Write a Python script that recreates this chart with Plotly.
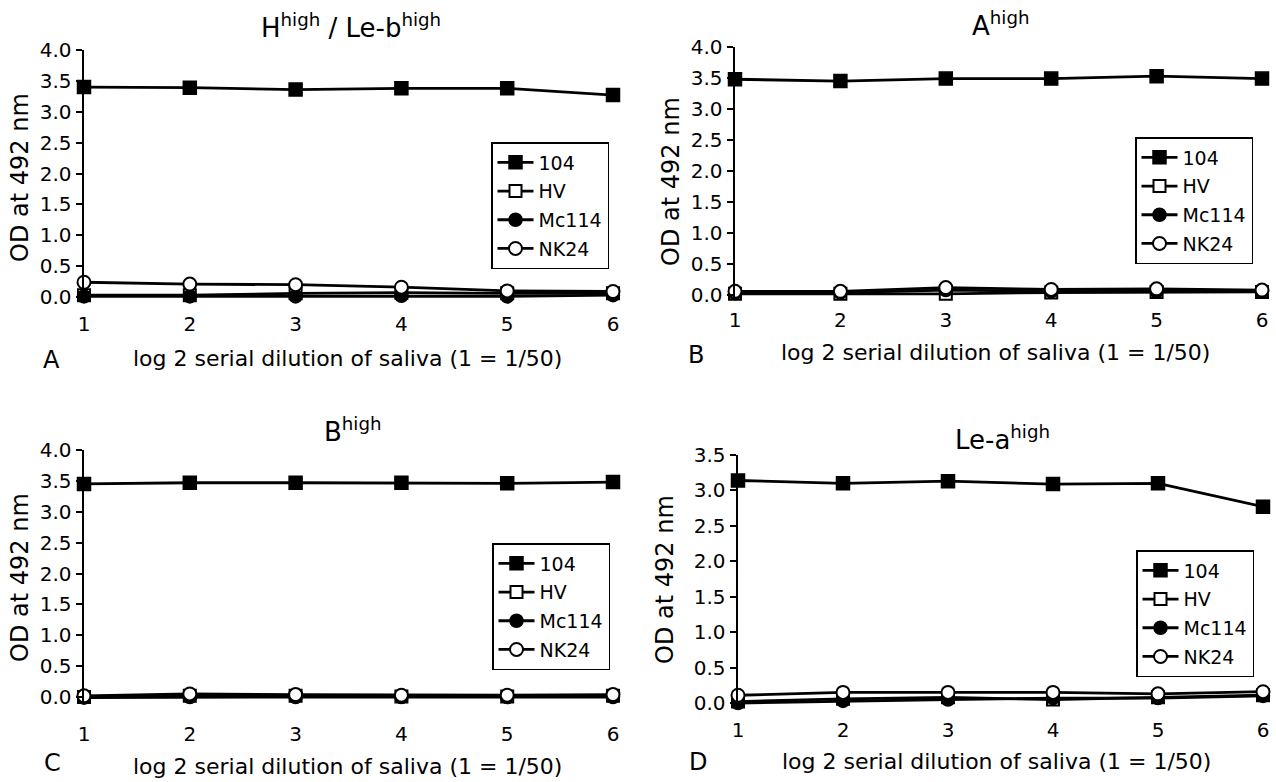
import plotly.graph_objects as go

W, H = 1276, 782

# ---------------- data ----------------
dilution = [1, 2, 3, 4, 5, 6]
series_names = ["104", "HV", "Mc114", "NK24"]

# Panel A: H-high / Le-b-high
a_104 = [3.40, 3.39, 3.36, 3.38, 3.38, 3.27]
a_hv = [0.03, 0.03, 0.06, 0.07, 0.06, 0.06]
a_mc114 = [0.01, 0.01, 0.01, 0.02, 0.01, 0.03]
a_nk24 = [0.24, 0.21, 0.20, 0.16, 0.10, 0.09]

# Panel B: A-high
b_104 = [3.48, 3.45, 3.49, 3.49, 3.53, 3.49]
b_hv = [0.02, 0.02, 0.02, 0.04, 0.05, 0.05]
b_mc114 = [0.03, 0.04, 0.08, 0.06, 0.06, 0.06]
b_nk24 = [0.06, 0.06, 0.12, 0.09, 0.10, 0.08]

# Panel C: B-high
c_104 = [3.45, 3.47, 3.47, 3.47, 3.46, 3.48]
c_hv = [0.00, 0.02, 0.02, 0.01, 0.01, 0.02]
c_mc114 = [-0.01, 0.00, 0.00, 0.00, 0.00, 0.00]
c_nk24 = [0.02, 0.05, 0.04, 0.03, 0.03, 0.04]

# Panel D: Le-a-high
d_104 = [3.14, 3.10, 3.13, 3.09, 3.10, 2.77]
d_hv = [0.02, 0.06, 0.08, 0.05, 0.08, 0.11]
d_mc114 = [0.00, 0.03, 0.05, 0.07, 0.07, 0.10]
d_nk24 = [0.11, 0.15, 0.15, 0.15, 0.13, 0.16]

x_tick_labels = ["1", "2", "3", "4", "5", "6"]
y_title = "OD at 492 nm"
x_title = "log 2 serial dilution of saliva (1 = 1/50)"

# ---------------- styling / layout ----------------
FONT = "DejaVu Sans"
marker_styles = {
    "104": dict(symbol="square", color="black", size=13, line=dict(color="black", width=1.5)),
    "HV": dict(symbol="square", color="white", size=12, line=dict(color="black", width=2)),
    "Mc114": dict(symbol="circle", color="black", size=13, line=dict(color="black", width=1.5)),
    "NK24": dict(symbol="circle", color="white", size=13, line=dict(color="black", width=2)),
}

panels = [
    dict(letter="A", title="H<sup>high</sup> / Le-b<sup>high</sup>",
         values=[a_104, a_hv, a_mc114, a_nk24],
         xpx=(84, 613), ypx=(50, 302), yrange=[-0.08, 4.0], ymax=4.0,
         standoff=8, title_xy=(351, 26), ytitle_x=20, ytitle_y=178,
         xtitle_xy=(347, 359), letter_xy=(51, 360), legend_xy=(609, 142)),
    dict(letter="B", title="A<sup>high</sup>",
         values=[b_104, b_hv, b_mc114, b_nk24],
         xpx=(735, 1262), ypx=(47, 300), yrange=[-0.08, 4.0], ymax=4.0,
         standoff=6, title_xy=(1000, 24), ytitle_x=671, ytitle_y=182,
         xtitle_xy=(995, 352), letter_xy=(696, 355), legend_xy=(1253, 137)),
    dict(letter="C", title="B<sup>high</sup>",
         values=[c_104, c_hv, c_mc114, c_nk24],
         xpx=(84, 613), ypx=(450, 702), yrange=[-0.08, 4.0], ymax=4.0,
         standoff=18, title_xy=(353, 430), ytitle_x=20, ytitle_y=578,
         xtitle_xy=(347, 766), letter_xy=(52, 763), legend_xy=(610, 543)),
    dict(letter="D", title="Le-a<sup>high</sup>",
         values=[d_104, d_hv, d_mc114, d_nk24],
         xpx=(738, 1263), ypx=(455, 708), yrange=[-0.07, 3.5], ymax=3.5,
         standoff=8, title_xy=(1002, 438), ytitle_x=665, ytitle_y=580,
         xtitle_xy=(996, 761), letter_xy=(698, 762), legend_xy=(1254, 550)),
]

fig = go.Figure()
annotations = []
layout_updates = {}

for i, p in enumerate(panels):
    n = "" if i == 0 else str(i + 1)
    xa, ya = "x" + n, "y" + n
    leg = "legend" + n
    for name, vals in zip(series_names, p["values"]):
        fig.add_trace(go.Scatter(
            x=dilution, y=vals, name=name, mode="lines+markers",
            xaxis=xa, yaxis=ya, legend=leg, legendgroup=p["letter"] + name,
            line=dict(color="black", width=2.8),
            marker=marker_styles[name], cliponaxis=False,
        ))
    x0, x1 = p["xpx"]
    yt, yb = p["ypx"]
    layout_updates["xaxis" + n] = dict(
        domain=[x0 / W, x1 / W], range=[1, 6], anchor=ya, automargin=False,
        tickvals=dilution, ticktext=x_tick_labels, showline=False, showgrid=False,
        zeroline=False, ticks="", ticklabelstandoff=p["standoff"],
        tickfont=dict(family=FONT, size=20, color="black"))
    tv = [k * 0.5 for k in range(int(p["ymax"] / 0.5) + 1)]
    layout_updates["yaxis" + n] = dict(
        domain=[1 - yb / H, 1 - yt / H], range=p["yrange"], anchor=xa, automargin=False,
        tickvals=tv, ticktext=[f"{v:.1f}" for v in tv],
        showline=True, linecolor="black", linewidth=2.5, showgrid=False, zeroline=False,
        ticks="outside", ticklen=6, tickwidth=2, tickcolor="black",
        tickfont=dict(family=FONT, size=20, color="black"))
    lx, ly = p["legend_xy"]
    layout_updates[leg] = dict(
        x=lx / W, y=1 - ly / H, xanchor="right", yanchor="top",
        bordercolor="black", borderwidth=1.5, bgcolor="white",
        font=dict(family=FONT, size=19, color="black"),
        tracegroupgap=1, itemwidth=36)
    common = dict(xref="paper", yref="paper", showarrow=False,
                  xanchor="center", yanchor="middle")
    tx, ty = p["title_xy"]
    annotations.append(dict(text=p["title"], x=tx / W, y=1 - ty / H,
                            font=dict(family=FONT, size=26, color="black"), **common))
    annotations.append(dict(text=y_title, x=p["ytitle_x"] / W, y=1 - p["ytitle_y"] / H,
                            textangle=-90, font=dict(family=FONT, size=24, color="black"), **common))
    xx, xy = p["xtitle_xy"]
    annotations.append(dict(text=x_title, x=xx / W, y=1 - xy / H,
                            font=dict(family=FONT, size=22, color="black"), **common))
    lx2, ly2 = p["letter_xy"]
    annotations.append(dict(text=p["letter"], x=lx2 / W, y=1 - ly2 / H,
                            font=dict(family=FONT, size=24, color="black"), **common))

fig.update_layout(
    width=W, height=H, margin=dict(l=0, r=0, t=0, b=0),
    paper_bgcolor="white", plot_bgcolor="white", hovermode=False,
    showlegend=True, annotations=annotations, **layout_updates)

fig.write_html("out.html", config={"displayModeBar": False, "staticPlot": True},
               post_script="document.body.style.margin='0px';")
